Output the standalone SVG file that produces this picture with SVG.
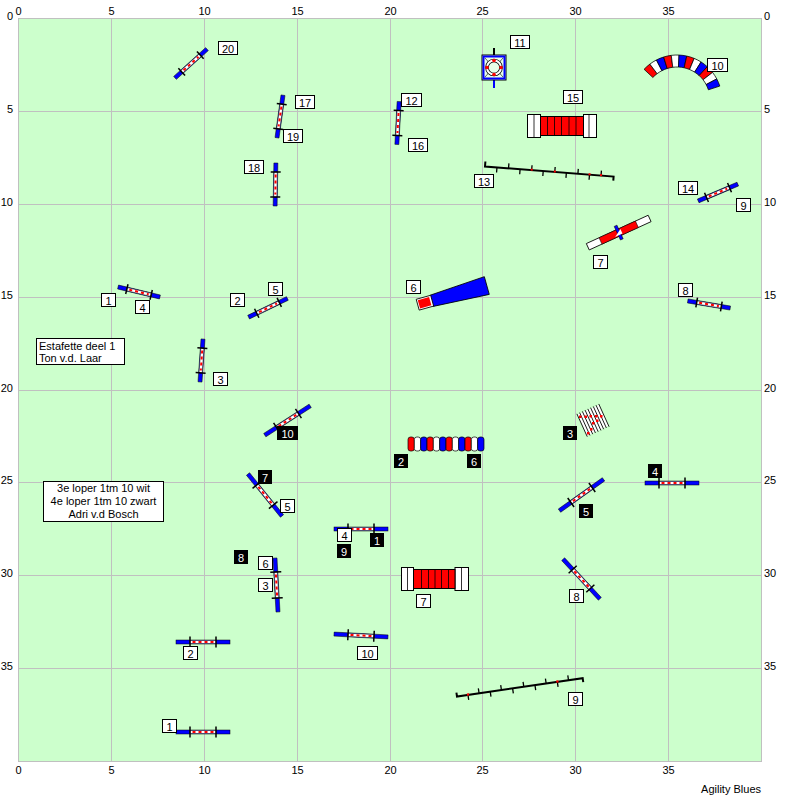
<svg xmlns="http://www.w3.org/2000/svg" xmlns:xlink="http://www.w3.org/1999/xlink" width="800" height="800" viewBox="0 0 800 800">
<style>
text{font-family:"Liberation Sans",Arial,sans-serif;font-size:11px;fill:#000}
.grid{stroke:#C0C0C0;stroke-width:1;fill:none}
.bl{fill:#0000FF;stroke:#000;stroke-width:.5}
.wh{fill:#fff;stroke:#000;stroke-width:.5}
.rd{stroke:#FF0000;stroke-width:2;stroke-dasharray:3 3}
.post{stroke:#000;stroke-width:1.5}
.lw rect{fill:#fff;stroke:#000;stroke-width:1}
.lb rect{fill:#000}
.lb text{fill:#fff}
.c{text-anchor:middle}
.seg{stroke:#000;stroke-width:.7}
.r{fill:#FF0000}.w{fill:#fff}.b{fill:#0000FF}
.weave{fill:none;stroke:#000;stroke-width:2}
.tick{fill:none;stroke:#000;stroke-width:1.3}
.dot{fill:#FF0000}
.ln{stroke:#000;stroke-width:.8}
</style>
<defs>
<g id="jS">
<rect class="bl" x="-21.5" y="-2" width="43" height="4"/>
<rect class="wh" x="-12.5" y="-1.6" width="25" height="3.2"/>
<line class="rd" x1="-10" y1="0" x2="10" y2="0"/>
<line class="post" x1="-12.5" y1="-5" x2="-12.5" y2="5"/>
<line class="post" x1="12.5" y1="-5" x2="12.5" y2="5"/>
</g>
<g id="jL">
<rect class="bl" x="-27" y="-2" width="54" height="4"/>
<rect class="wh" x="-13" y="-1.6" width="26" height="3.2"/>
<line class="rd" x1="-10.5" y1="0" x2="10.5" y2="0"/>
<line class="post" x1="-13" y1="-5.5" x2="-13" y2="5.5"/>
<line class="post" x1="13" y1="-5.5" x2="13" y2="5.5"/>
</g>
<path id="seg" d="M45,0A45,45 0 0 1 44.33,7.75L32.51,5.68A33,33 0 0 0 33,0Z"/>
</defs>
<rect x="0" y="0" width="800" height="800" fill="#fff"/>
<g id="field">
<rect x="18.5" y="18.5" width="743" height="743" fill="#CCFFCC" stroke="#C0C0C0"/>
<path class="grid" d="M111.5,18.5V761.5M204.5,18.5V761.5M297.5,18.5V761.5M390.5,18.5V761.5M482.5,18.5V761.5M575.5,18.5V761.5M668.5,18.5V761.5M18.5,111.5H761.5M18.5,204.5H761.5M18.5,297.5H761.5M18.5,390.5H761.5M18.5,482.5H761.5M18.5,575.5H761.5M18.5,668.5H761.5"/>
</g>
<g id="axes">
<g class="c">
<text x="18.5" y="14.5">0</text><text x="111.5" y="14.5">5</text><text x="204.5" y="14.5">10</text><text x="297.5" y="14.5">15</text><text x="390.5" y="14.5">20</text><text x="482.5" y="14.5">25</text><text x="575.5" y="14.5">30</text><text x="668.5" y="14.5">35</text>
<text x="18.5" y="774">0</text><text x="111.5" y="774">5</text><text x="204.5" y="774">10</text><text x="297.5" y="774">15</text><text x="390.5" y="774">20</text><text x="482.5" y="774">25</text><text x="575.5" y="774">30</text><text x="668.5" y="774">35</text>
</g>
<g text-anchor="end">
<text x="13" y="19.5">0</text><text x="13" y="112.5">5</text><text x="13" y="205.5">10</text><text x="13" y="298.5">15</text><text x="13" y="391.5">20</text><text x="13" y="483.5">25</text><text x="13" y="576.5">30</text><text x="13" y="669.5">35</text>
</g>
<g>
<text x="764" y="19.5">0</text><text x="764" y="112.5">5</text><text x="764" y="205.5">10</text><text x="764" y="298.5">15</text><text x="764" y="391.5">20</text><text x="764" y="483.5">25</text><text x="764" y="576.5">30</text><text x="764" y="669.5">35</text>
</g>
</g>
<g id="connectors"/>
<g id="jump-20"><use xlink:href="#jS" transform="translate(191,63.5) rotate(-42)"/>
<g class="lw"><rect x="218.5" y="41.5" width="19" height="13"/><text class="c" x="228" y="52.5">20</text></g></g>
<g id="jump-17-19"><use xlink:href="#jS" transform="translate(280,116.5) rotate(98)"/>
<g class="lw"><rect x="295.5" y="95.5" width="19" height="13"/><text class="c" x="305" y="106.5">17</text></g>
<g class="lw"><rect x="283.5" y="129.5" width="19" height="13"/><text class="c" x="293" y="140.5">19</text></g></g>
<g id="jump-18"><use xlink:href="#jS" transform="translate(275.5,184.5) rotate(91)"/>
<g class="lw"><rect x="244.5" y="160.5" width="19" height="13"/><text class="c" x="254" y="171.5">18</text></g></g>
<g id="tire-11">
<line x1="494" y1="48" x2="494" y2="55" stroke="#000" stroke-width="2"/>
<line x1="494" y1="80" x2="494" y2="88" stroke="#0000FF" stroke-width="2"/>
<rect x="482" y="55" width="24" height="25" fill="#E8FFE8" stroke="#000"/>
<rect x="483.5" y="56.5" width="21" height="22" fill="none" stroke="#0000FF" stroke-width="2"/>
<path d="M485,58L489,62.5M503,58L499,62.5M485,77L489,72.5M503,77L499,72.5" stroke="#000" stroke-width=".6"/>
<circle cx="494" cy="67.5" r="7" fill="none" stroke="#000" stroke-width="3.6"/>
<circle cx="494" cy="67.5" r="7" fill="none" stroke="#fff" stroke-width="2"/>
<g class="dot"><circle cx="494" cy="60.5" r="1.8"/><circle cx="494" cy="74.5" r="1.8"/><circle cx="487" cy="67.5" r="1.8"/><circle cx="501" cy="67.5" r="1.8"/></g>
<g class="lw"><rect x="510.5" y="35.5" width="19" height="13"/><text class="c" x="520" y="46.5">11</text></g></g>
<g id="tunnel-10">
<use xlink:href="#seg" class="seg r" transform="translate(677,100) rotate(-137)"/>
<use xlink:href="#seg" class="seg w" transform="translate(677,100) rotate(-127.08)"/>
<use xlink:href="#seg" class="seg b" transform="translate(677,100) rotate(-117.17)"/>
<use xlink:href="#seg" class="seg r" transform="translate(677,100) rotate(-107.25)"/>
<use xlink:href="#seg" class="seg w" transform="translate(677,100) rotate(-97.33)"/>
<use xlink:href="#seg" class="seg b" transform="translate(677,100) rotate(-87.42)"/>
<use xlink:href="#seg" class="seg r" transform="translate(677,100) rotate(-77.5)"/>
<use xlink:href="#seg" class="seg w" transform="translate(677,100) rotate(-67.58)"/>
<use xlink:href="#seg" class="seg b" transform="translate(677,100) rotate(-57.67)"/>
<use xlink:href="#seg" class="seg r" transform="translate(677,100) rotate(-47.75)"/>
<use xlink:href="#seg" class="seg w" transform="translate(677,100) rotate(-37.83)"/>
<use xlink:href="#seg" class="seg b" transform="translate(677,100) rotate(-27.92)"/>
<g class="lw"><rect x="707.5" y="58.5" width="20" height="13"/><text class="c" x="717.5" y="69.5">10</text></g></g>
<g id="jump-12-16"><use xlink:href="#jS" transform="translate(398,123) rotate(93)"/>
<g class="lw"><rect x="401.5" y="93.5" width="20" height="13"/><text class="c" x="411.5" y="104.5">12</text></g>
<g class="lw"><rect x="408.5" y="138.5" width="19" height="13"/><text class="c" x="418" y="149.5">16</text></g></g>
<g id="tunnel-15">
<rect x="527.5" y="114.5" width="13" height="23" fill="#fff" stroke="#000"/>
<rect x="583.5" y="114.5" width="13" height="23" fill="#fff" stroke="#000"/>
<rect x="540.5" y="116.5" width="43" height="19" fill="#FF0000" stroke="#000"/>
<path class="ln" d="M534,114.5V137.5M589,114.5V137.5M547.5,116.5V135.5M554.5,116.5V135.5M561.5,116.5V135.5M569,116.5V135.5M576,116.5V135.5"/>
<g class="lw"><rect x="563.5" y="90.5" width="19" height="13"/><text class="c" x="573" y="101.5">15</text></g></g>
<g id="weave-13">
<g transform="translate(485,166.5) rotate(4.5)">
<path class="weave" d="M0,-5V0H129V4"/>
<path class="tick" d="M12,0v5M23.6,0v-5M35.2,0v5M46.8,0v-5M58.4,0v5M70,0v-5M81.6,0v5M93.2,0v-5M104.8,0v5M116.4,0v-5"/>
<g class="dot"><rect x="45.8" y="-1.5" width="2" height="2"/><rect x="69" y="-1.5" width="2" height="2"/><rect x="103.8" y="-1.5" width="2" height="2"/><rect x="115.4" y="-1.5" width="2" height="2"/></g>
</g>
<g class="lw"><rect x="474.5" y="174.5" width="19" height="13"/><text class="c" x="484" y="185.5">13</text></g></g>
<g id="jump-14-9"><use xlink:href="#jS" transform="translate(718,192.5) rotate(-23)"/>
<g class="lw"><rect x="678.5" y="181.5" width="19" height="13"/><text class="c" x="688" y="192.5">14</text></g>
<g class="lw"><rect x="736.5" y="198.5" width="14" height="13"/><text class="c" x="743.5" y="209.5">9</text></g></g>
<g id="seesaw-7">
<g transform="translate(618.7,232.6) rotate(-24.6)">
<rect x="-34" y="-3.5" width="68" height="7" fill="#fff" stroke="#000" stroke-width=".8"/>
<rect x="-20" y="-3.5" width="40" height="7" fill="#FF0000" stroke="#000" stroke-width=".5"/>
<rect x="-1.5" y="-7.5" width="3" height="15" fill="#0000FF" stroke="#000" stroke-width=".5"/>
<path d="M-5,2.5L3,-2.5L3,2.5Z" fill="#fff"/>
</g>
<g class="lw"><rect x="593.5" y="255.5" width="14" height="13"/><text class="c" x="600.5" y="266.5">7</text></g></g>
<g id="tunnel-6">
<g transform="translate(417.7,304.7) rotate(-15.5)">
<polygon points="14.5,-5.8 71.7,-9.2 71.7,9.2 14.5,5.8" fill="#0000FF" stroke="#000" stroke-width=".8"/>
<rect x="0" y="-5.6" width="15" height="11.2" fill="#fff" stroke="#000" stroke-width=".8"/>
<rect x="1.3" y="-4.3" width="11.7" height="8.6" fill="#FF0000"/>
</g>
<g class="lw"><rect x="406.5" y="280.5" width="14" height="13"/><text class="c" x="413.5" y="291.5">6</text></g></g>
<g id="jump-8-top"><use xlink:href="#jS" transform="translate(709,304.5) rotate(9.5)"/>
<g class="lw"><rect x="678.5" y="283.5" width="14" height="13"/><text class="c" x="685.5" y="294.5">8</text></g></g>
<g id="jump-1-4"><use xlink:href="#jS" transform="translate(139,292) rotate(13.4)"/>
<g class="lw"><rect x="101.5" y="293.5" width="14" height="13"/><text class="c" x="108.5" y="304.5">1</text></g>
<g class="lw"><rect x="135.5" y="300.5" width="14" height="13"/><text class="c" x="142.5" y="311.5">4</text></g></g>
<g id="jump-2-5"><use xlink:href="#jS" transform="translate(268,307.8) rotate(-25.7)"/>
<g class="lw"><rect x="230.5" y="293.5" width="14" height="13"/><text class="c" x="237.5" y="304.5">2</text></g>
<g class="lw"><rect x="268.5" y="282.5" width="14" height="13"/><text class="c" x="275.5" y="293.5">5</text></g></g>
<g id="jump-3-top"><use xlink:href="#jS" transform="translate(201.5,360.5) rotate(94)"/>
<g class="lw"><rect x="213.5" y="372.5" width="14" height="13"/><text class="c" x="220.5" y="383.5">3</text></g></g>
<g id="note-1">
<rect x="36.5" y="338.5" width="88" height="26" fill="#fff" stroke="#000"/>
<text x="39" y="350">Estafette deel 1</text>
<text x="39" y="362">Ton v.d. Laar</text>
</g>
<g id="jump-10-black"><use xlink:href="#jL" transform="translate(287.5,420.5) rotate(-32.8)"/>
<g class="lb"><rect x="277" y="426" width="21" height="14"/><text class="c" x="287.5" y="437.5">10</text></g></g>
<g id="tunnel-2-6">
<rect class="seg r" x="408" y="437" width="6.33" height="14" rx="2.5"/>
<rect class="seg w" x="414.33" y="437" width="6.33" height="14" rx="2.5"/>
<rect class="seg b" x="420.66" y="437" width="6.33" height="14" rx="2.5"/>
<rect class="seg r" x="427" y="437" width="6.33" height="14" rx="2.5"/>
<rect class="seg w" x="433.33" y="437" width="6.33" height="14" rx="2.5"/>
<rect class="seg b" x="439.66" y="437" width="6.33" height="14" rx="2.5"/>
<rect class="seg r" x="446" y="437" width="6.33" height="14" rx="2.5"/>
<rect class="seg w" x="452.33" y="437" width="6.33" height="14" rx="2.5"/>
<rect class="seg b" x="458.66" y="437" width="6.33" height="14" rx="2.5"/>
<rect class="seg r" x="465" y="437" width="6.33" height="14" rx="2.5"/>
<rect class="seg w" x="471.33" y="437" width="6.33" height="14" rx="2.5"/>
<rect class="seg b" x="477.66" y="437" width="6.33" height="14" rx="2.5"/>
<g class="lb"><rect x="394" y="454" width="14" height="14"/><text class="c" x="401" y="465.5">2</text></g>
<g class="lb"><rect x="467" y="454" width="14" height="14"/><text class="c" x="474" y="465.5">6</text></g></g>
<g id="longjump-3">
<g transform="translate(593,420.3) rotate(-24.4)">
<rect x="-12" y="-11.5" width="24" height="23" fill="#fff"/>
<path class="ln" d="M-12,-12.5V12.5M-9,-12.5V12.5M-6,-12.5V12.5M-3,-12.5V12.5M0,-12.5V12.5M3,-12.5V12.5M6,-12.5V12.5M9,-12.5V12.5M12,-12.5V12.5"/>
</g>
<g class="dot"><rect x="579" y="415.5" width="2.5" height="2.5"/><rect x="584.5" y="415.5" width="2.5" height="2.5"/><rect x="589.5" y="415" width="2.5" height="2.5"/><rect x="595" y="415" width="2.5" height="2.5"/><rect x="600" y="415" width="2.5" height="2.5"/><rect x="596" y="419.5" width="2.5" height="2.5"/><rect x="592" y="422" width="2.5" height="2.5"/><rect x="590" y="428" width="2.5" height="2.5"/><rect x="587" y="432" width="2.5" height="2.5"/></g>
<g class="lb"><rect x="563" y="426" width="14" height="14"/><text class="c" x="570" y="437.5">3</text></g></g>
<g id="jump-7-5"><use xlink:href="#jL" transform="translate(265,495) rotate(51)"/>
<g class="lb"><rect x="258" y="470" width="14" height="14"/><text class="c" x="265" y="481.5">7</text></g>
<g class="lw"><rect x="280.5" y="499.5" width="14" height="13"/><text class="c" x="287.5" y="510.5">5</text></g></g>
<g id="jump-5-black"><use xlink:href="#jL" transform="translate(581.5,495) rotate(-35.4)"/>
<g class="lb"><rect x="579" y="504" width="14" height="14"/><text class="c" x="586" y="515.5">5</text></g></g>
<g id="jump-4-black"><use xlink:href="#jL" transform="translate(672,483)"/>
<g class="lb"><rect x="648" y="464" width="14" height="14"/><text class="c" x="655" y="475.5">4</text></g></g>
<g id="jump-4-1-9"><use xlink:href="#jL" transform="translate(361,529)"/>
<g class="lw"><rect x="337.5" y="528.5" width="14" height="13"/><text class="c" x="344.5" y="539.5">4</text></g>
<g class="lb"><rect x="370" y="533" width="14" height="14"/><text class="c" x="377" y="544.5">1</text></g>
<g class="lb"><rect x="337" y="544" width="14" height="14"/><text class="c" x="344" y="555.5">9</text></g></g>
<g id="note-2">
<rect x="43.5" y="481.5" width="120" height="40" fill="#fff" stroke="#000"/>
<text class="c" x="103.5" y="492">3e loper 1tm 10 wit</text>
<text class="c" x="103.5" y="505">4e loper 1tm 10 zwart</text>
<text class="c" x="103.5" y="518">Adri v.d Bosch</text>
</g>
<g id="jump-6-3-8"><use xlink:href="#jL" transform="translate(276.5,585) rotate(86.8)"/>
<g class="lb"><rect x="234" y="550" width="14" height="14"/><text class="c" x="241" y="561.5">8</text></g>
<g class="lw"><rect x="258.5" y="556.5" width="14" height="13"/><text class="c" x="265.5" y="567.5">6</text></g>
<g class="lw"><rect x="258.5" y="578.5" width="14" height="13"/><text class="c" x="265.5" y="589.5">3</text></g></g>
<g id="tunnel-7">
<rect x="401.5" y="567.5" width="12" height="23" fill="#fff" stroke="#000"/>
<rect x="455" y="567.5" width="13.5" height="23" fill="#fff" stroke="#000"/>
<rect x="413.5" y="569.5" width="41.5" height="19" fill="#FF0000" stroke="#000"/>
<path class="ln" d="M407.5,567.5V590.5M461.5,567.5V590.5M421.5,569.5V588.5M428.5,569.5V588.5M435,569.5V588.5M441.5,569.5V588.5M448.5,569.5V588.5"/>
<g class="lw"><rect x="416.5" y="594.5" width="14" height="13"/><text class="c" x="423.5" y="605.5">7</text></g></g>
<g id="jump-8-white"><use xlink:href="#jL" transform="translate(581.5,579) rotate(47.2)"/>
<g class="lw"><rect x="569.5" y="589.5" width="14" height="13"/><text class="c" x="576.5" y="600.5">8</text></g></g>
<g id="jump-2-white"><use xlink:href="#jL" transform="translate(203,642)"/>
<g class="lw"><rect x="183.5" y="646.5" width="14" height="13"/><text class="c" x="190.5" y="657.5">2</text></g></g>
<g id="jump-10-white"><use xlink:href="#jL" transform="translate(361,635.5) rotate(3)"/>
<g class="lw"><rect x="357.5" y="646.5" width="20" height="13"/><text class="c" x="367.5" y="657.5">10</text></g></g>
<g id="weave-9">
<g transform="translate(457,696.5) rotate(-8.3)">
<path class="weave" d="M0,-4V0H127V4"/>
<path class="tick" d="M11.1,0v5M22.3,0v-5M33.6,0v5M44.9,0v-5M56.2,0v5M67.5,0v-5M78.8,0v5M90.1,0v-5M101.4,0v5M112.7,0v-5"/>
<g class="dot"><rect x="10.1" y="-1.5" width="2.2" height="2.2"/><rect x="100.4" y="-1.5" width="2.2" height="2.2"/></g>
</g>
<g class="lw"><rect x="568.5" y="692.5" width="14" height="13"/><text class="c" x="575.5" y="703.5">9</text></g></g>
<g id="jump-1-white"><use xlink:href="#jL" transform="translate(203,732)"/>
<g class="lw"><rect x="162.5" y="719.5" width="14" height="13"/><text class="c" x="169.5" y="730.5">1</text></g></g>
<text x="761" y="793" text-anchor="end">Agility Blues</text>
</svg>
